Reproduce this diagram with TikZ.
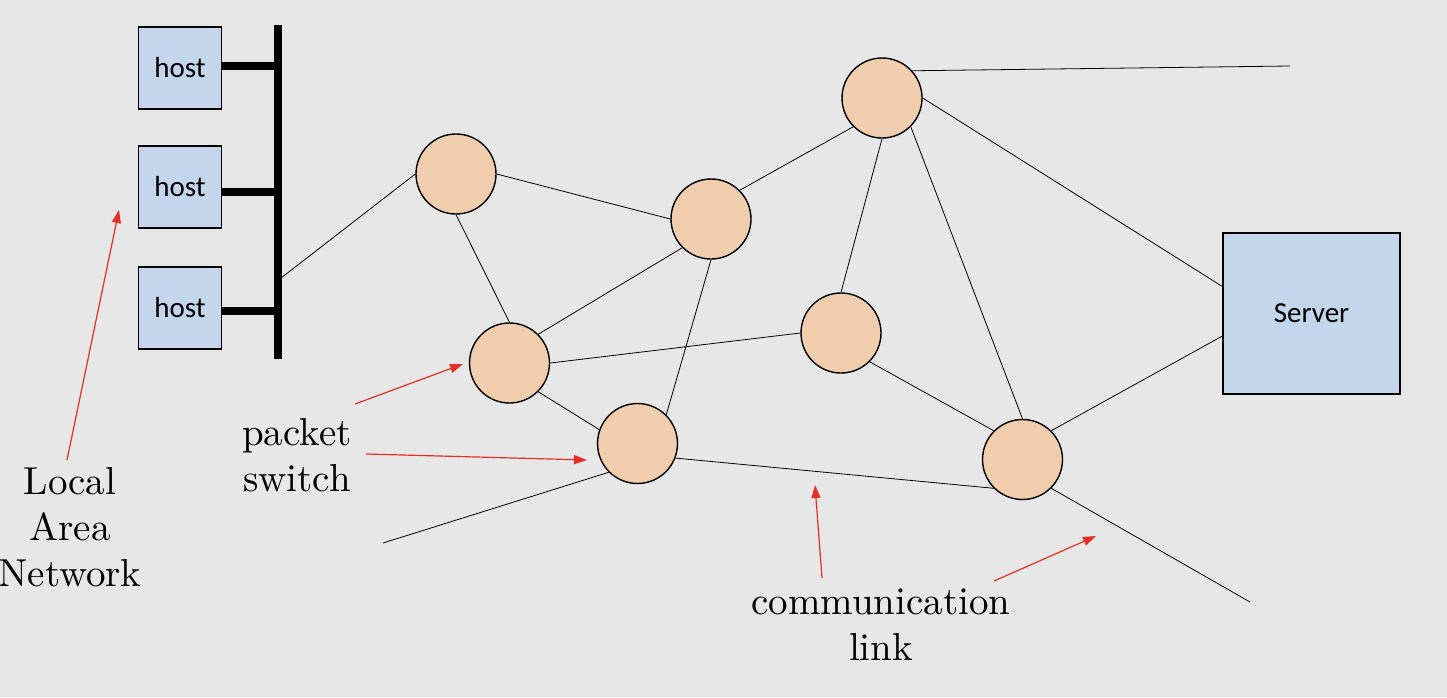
\documentclass[tikz,border=0pt]{standalone}
\usepackage{fontspec}
\newfontfamily\hostfont{Carlito}
\newfontfamily\tagfont{lmroman10-regular.otf}
\usepackage{tikz}
\usetikzlibrary{arrows.meta}
\definecolor{bg_gray}{RGB}{231,231,231}
\definecolor{node_peach}{RGB}{240,205,172}
\definecolor{node_blue}{RGB}{196,214,235}
\definecolor{edge_red}{RGB}{228,48,36}

\begin{document}
\begin{tikzpicture}[x=1pt,y=-1pt,semithick,>={Triangle[length=13pt,width=9pt]}]
    \tikzstyle{switch}=[draw=black, circle, line width=1.4pt, minimum size=80pt, inner sep=0pt, fill=node_peach]
    \tikzstyle{hostbox}=[draw=black, line width=1.2pt, fill=node_blue, minimum width=83pt, minimum height=82pt, font=\hostfont\fontsize{29}{34}\selectfont]
    \tikzstyle{link}=[-, line width=0.8pt, black]
    \tikzstyle{wire}=[-, line width=7.5pt, black]
    \tikzstyle{pointer}=[->, line width=1.2pt, edge_red]
    \tikzstyle{tag}=[align=center, text=black, font=\tagfont\fontsize{39}{46}\selectfont]

    % background
    \useasboundingbox (0,0) rectangle (1447,697);
    \fill[bg_gray] (0,0) rectangle (1447,697);

    % hosts on the LAN bus
    \node[hostbox] (h1) at (180,68)  {host};
    \node[hostbox] (h2) at (180,187) {host};
    \node[hostbox] (h3) at (180,308) {host};
    \coordinate (busTop) at (278,25);
    \coordinate (busBot) at (278,359);
    \coordinate (busTap) at (281,278);

    % packet switches
    \node[switch] (a) at (456,174)   {};
    \node[switch] (b) at (711,219)   {};
    \node[switch] (c) at (882,98)    {};
    \node[switch] (d) at (509.5,363) {};
    \node[switch] (e) at (841,333)   {};
    \node[switch] (f) at (637.5,443.5) {};
    \node[switch] (g) at (1022.5,459.5) {};

    % server
    \node[hostbox, minimum width=177pt, minimum height=161pt] (srv) at (1311.5,313.5) {Server};

    % free link ends
    \coordinate (endC) at (1290,66);
    \coordinate (endF) at (383,543);
    \coordinate (endG) at (1250,602);

    % labels
    \node[tag] (lan)  at (70,527)  {Local\\Area\\Network};
    \node[tag] (pkt)  at (297,455) {packet\\switch};
    \node[tag] (comm) at (881,625) {communication\\link};

    \draw[wire] (busTop) -- (busBot);
    \draw[wire] (h1.east |- 0,66)  -- (busTop |- 0,66);
    \draw[wire] (h2.east |- 0,192) -- (busTop |- 0,192);
    \draw[wire] (h3.east |- 0,311) -- (busTop |- 0,311);

    \path[link]
     (busTap) edge (a.180)
     (a.0)   edge (b.180)
     (a.270) edge (d.90)
     (b.45)  edge (c.225)
     (b.225) edge (d.45)
     (b.270) edge (f.45)
     (c.42)  edge (endC)
     (c.0)   edge ([yshift=27pt]srv.west)
     (c.270) edge (e.90)
     (c.-45) edge (g.90)
     (d.0)   edge (e.180)
     (d.-45) edge (f.160)
     (e.-45) edge (g.135)
     (f.-21) edge (g.225)
     (f.225) edge (endF)
     (g.45)  edge ([yshift=-22.5pt]srv.west)
     (g.-45) edge (endG)
     ;

    % pointers
    \coordinate (pLan)  at (119,210);
    \coordinate (pD)    at (463,364);
    \coordinate (pF)    at (587,460);
    \coordinate (pLk1)  at (815,485);
    \coordinate (pLk2)  at (1096,536);
    \draw[pointer] (67,460)  -- (pLan);
    \draw[pointer] (355,404) -- (pD);
    \draw[pointer] (366,454) -- (pF);
    \draw[pointer] (822,578) -- (pLk1);
    \draw[pointer] (994,581) -- (pLk2);
\end{tikzpicture}
\end{document}
